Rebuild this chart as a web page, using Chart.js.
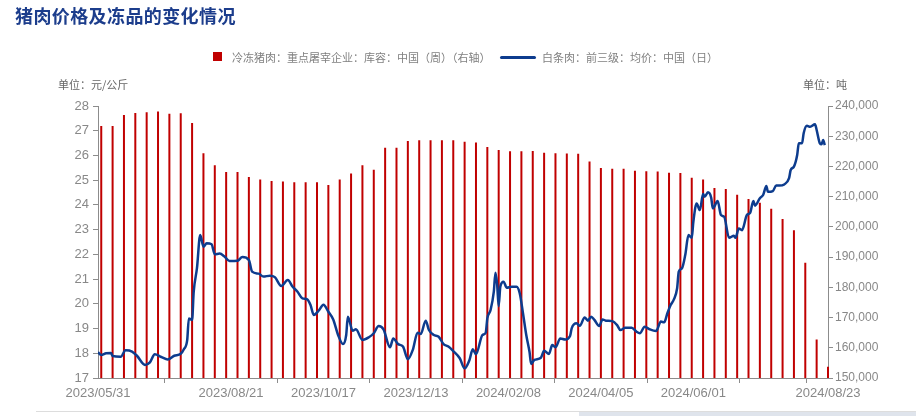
<!DOCTYPE html>
<html>
<head>
<meta charset="utf-8">
<script src="https://cdn.jsdelivr.net/npm/chart.js@4.4.1/dist/chart.umd.min.js"></script>
<style>
body { margin: 0; background: #fff; }
#wrap { position: relative; width: 916px; height: 416px; overflow: hidden; background: #fff;
        font-family: "Noto Sans CJK SC", "Noto Sans", sans-serif; }
#chart { position: absolute; left: 0; top: 0; }
.txt { position: absolute; white-space: nowrap; }
#title { left: 15px; top: 5px; font-size: 18px; line-height: 20px; letter-spacing: 0.4px; font-weight: bold; color: #1c3d8c; }
.leg { top: 50px; font-size: 11px; line-height: 14px; color: #808080; }
.unit { top: 77px; font-size: 11px; line-height: 14px; color: #666; }
#box { position: absolute; left: 213px; top: 52px; width: 9px; height: 9px; background: #c00000; }
#swatch { position: absolute; left: 500px; top: 55.5px; width: 36px; height: 3px; background: #0d3c8e; border-radius: 1.5px; }
#foot { position: absolute; left: 36px; top: 411px; width: 880px; height: 1px; background: #ddd; }
#foot2 { position: absolute; left: 579px; top: 412px; width: 337px; height: 4px; background: #dfe4ec; }
</style>
</head>
<body>
<div id="wrap">
  <canvas id="chart" width="916" height="416"></canvas>
  <div id="title" class="txt">猪肉价格及冻品的变化情况</div>
  <div id="box"></div>
  <div class="txt leg" style="left:232px">冷冻猪肉：重点屠宰企业：库容：中国（周）（右轴）</div>
  <div id="swatch"></div>
  <div class="txt leg" style="left:542px">白条肉：前三级：均价：中国（日）</div>
  <div class="txt unit" style="left:58px">单位：元/公斤</div>
  <div class="txt unit" style="left:803px">单位：吨</div>
  <div id="foot"></div>
  <div id="foot2"></div>
</div>
<script>
// x values are days counted from 2023/05/31
var startDate = [2023, 4, 31];

var xTickDays = [0, 82, 139, 196, 253, 310, 367, 424, 450];
var xTickLabels = ['2023/05/31', '2023/08/21', '2023/10/17', '2023/12/13', '2024/02/08',
                   '2024/04/05', '2024/06/01', '', '2024/08/23'];

// weekly stock (tons), first week on 2023/06/02
var barFirstDay = 2;
var barValues = [233400, 233400, 237000, 237700, 237900, 238200, 237400, 237600, 234400, 224400,
                 220400, 218200, 218200, 216500, 215700, 215200, 215000, 214800, 214800, 214800,
                 213900, 215700, 217700, 220400, 218900, 226200, 226200, 228400, 228700, 228700,
                 228700, 228700, 228200, 227900, 226400, 225400, 225000, 225000, 225100, 224500,
                 224400, 224300, 224200, 221600, 219500, 219200, 219200, 218600, 218400, 218300,
                 217900, 217800, 216300, 215700, 212900, 212500, 210600, 209200, 208000, 206000,
                 202600, 198900, 188100, 162700, 153700];

// daily price (yuan/kg)
var lineDays = [0, 2, 5, 8, 9, 14, 17, 21, 24, 29, 32, 35, 39, 43, 47, 51, 53, 55, 56, 58,
                59, 61, 63, 65, 67, 70, 72, 75, 78, 81, 86, 89, 93, 95, 99, 102, 106, 109, 113, 117,
                120, 123, 126, 129, 131, 133, 136, 139, 142, 145, 148, 151, 153, 154, 157, 159, 163, 167, 170, 173,
                176, 180, 182, 185, 188, 191, 194, 197, 199, 202, 204, 207, 210, 213, 216, 219, 223, 226, 229, 231,
                233, 237, 239, 240, 242, 244, 245, 246, 247, 248, 250, 252, 255, 258, 260, 262, 264, 266, 267, 269,
                273, 275, 278, 280, 282, 285, 288, 291, 292, 295, 297, 300, 302, 304, 306, 309, 311, 313, 317, 320,
                322, 325, 329, 332, 334, 337, 340, 344, 347, 349, 351, 353, 355, 357, 358, 360, 362, 364, 366, 367,
                369, 371, 373, 374, 376, 378, 379, 382, 384, 386, 389, 392, 393, 395, 397, 400, 402, 404, 405, 408,
                410, 412, 413, 416, 418, 420, 423, 426, 427, 429, 431, 432, 434, 435, 437, 439, 442, 443, 445, 446,
                447, 448];
var lineValues = [18.04, 17.93, 18.00, 18.01, 17.89, 17.86, 18.12, 18.07, 17.90, 17.53, 17.63, 17.96, 17.85, 17.75, 17.90, 17.98, 18.17, 18.54, 19.41, 19.35,
                  20.49, 21.44, 22.78, 22.31, 22.45, 22.41, 22.00, 22.03, 21.91, 21.73, 21.74, 21.89, 21.77, 21.30, 21.22, 21.10, 21.14, 21.08, 20.72, 20.96,
                  20.69, 20.49, 20.22, 20.18, 19.95, 19.55, 19.72, 19.96, 19.68, 19.37, 18.74, 18.37, 18.74, 19.48, 18.91, 18.97, 18.54, 18.65, 18.81, 19.10,
                  18.97, 18.24, 18.60, 18.37, 18.27, 17.76, 18.13, 18.83, 18.78, 19.32, 18.94, 18.74, 18.67, 18.37, 18.27, 18.09, 17.80, 17.39, 17.73, 18.16,
                  17.96, 18.74, 18.83, 19.41, 19.75, 20.49, 21.26, 20.83, 19.91, 20.69, 20.89, 20.65, 20.69, 20.69, 20.42, 19.61, 18.74, 18.06, 17.57, 17.73,
                  17.82, 18.10, 17.97, 18.33, 18.24, 18.60, 18.56, 18.70, 19.01, 19.21, 19.11, 19.45, 19.32, 19.48, 19.35, 19.10, 19.37, 19.32, 19.30, 19.14,
                  18.94, 19.03, 19.03, 18.87, 18.81, 19.07, 18.97, 18.90, 19.28, 19.25, 19.62, 19.95, 20.18, 20.63, 21.30, 21.44, 21.97, 22.78, 22.67, 23.32,
                  24.06, 23.79, 24.44, 24.33, 24.51, 24.29, 23.86, 24.16, 23.59, 23.52, 22.67, 22.75, 22.67, 23.05, 22.98, 23.59, 23.68, 24.16, 23.97, 24.27,
                  24.40, 24.76, 24.53, 24.56, 24.78, 24.78, 24.83, 25.08, 25.41, 25.55, 26.02, 26.49, 26.49, 26.90, 27.20, 27.16, 27.26, 27.03, 26.49, 26.45,
                  26.62, 26.42];

function pad(n) { return n < 10 ? '0' + n : '' + n; }
function dayToText(day) {
    var d = new Date(startDate[0], startDate[1], startDate[2] + day);
    return d.getFullYear() + '/' + pad(d.getMonth() + 1) + '/' + pad(d.getDate());
}

var barData = barValues.map(function(v, i) { return {x: barFirstDay + i * 7, y: v}; });
var lineData = lineDays.map(function(d, i) { return {x: d, y: lineValues[i]}; });

var tickFont = {family: '"Liberation Sans", Arial, sans-serif', size: 13};
var axisGray = '#8c8c8c';

new Chart('chart', {
    type: 'bar',
    data: {
        datasets: [
            {
                type: 'line',
                label: '白条肉：前三级：均价：中国（日）',
                data: lineData,
                yAxisID: 'y',
                borderColor: '#0d3c8e',
                borderWidth: 2.5,
                pointRadius: 0,
                cubicInterpolationMode: 'monotone',
                order: 0
            },
            {
                label: '冷冻猪肉：重点屠宰企业：库容：中国（周）（右轴）',
                data: barData,
                yAxisID: 'y1',
                backgroundColor: '#c00000',
                barThickness: 2,
                inflateAmount: 0,
                borderWidth: 0,
                // let the last week poke past the right edge, keep the bottom clipped
                clip: {left: 0, top: 0, right: 3, bottom: 0},
                order: 1
            }
        ]
    },
    options: {
        responsive: false,
        animation: false,
        devicePixelRatio: 1,
        layout: {padding: {top: 106, left: 0, right: 0, bottom: 0}},
        plugins: {legend: {display: false}, tooltip: {enabled: false}},
        scales: {
            x: {
                type: 'linear',
                min: 0,
                max: 450,
                offset: false,
                afterBuildTicks: function(scale) {
                    scale.ticks = xTickDays.map(function(v) { return {value: v}; });
                },
                afterFit: function(scale) { scale.height = 38; },
                ticks: {
                    autoSkip: false,
                    maxRotation: 0,
                    padding: 3,
                    color: '#888',
                    font: tickFont,
                    callback: function(v, i) { return xTickLabels[i]; }
                },
                grid: {drawOnChartArea: false, tickLength: 5, color: axisGray},
                border: {color: axisGray}
            },
            y: {
                position: 'left',
                min: 17,
                max: 28,
                afterFit: function(scale) { scale.width = 98; },
                ticks: {stepSize: 1, padding: 4, color: '#888', font: tickFont},
                grid: {drawOnChartArea: false, tickLength: 5, color: axisGray},
                border: {color: axisGray}
            },
            y1: {
                position: 'right',
                min: 150000,
                max: 240000,
                afterFit: function(scale) { scale.width = 88; },
                ticks: {
                    stepSize: 10000,
                    padding: 2,
                    color: '#888',
                    font: {family: '"Liberation Sans", Arial, sans-serif', size: 12},
                    callback: function(v) { return v.toLocaleString('en-US'); }
                },
                grid: {drawOnChartArea: false, tickLength: 5, color: axisGray},
                border: {color: axisGray}
            }
        }
    }
});
</script>
</body>
</html>
